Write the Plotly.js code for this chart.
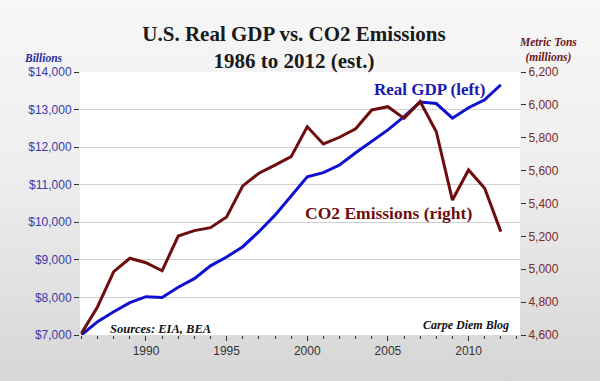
<!DOCTYPE html>
<html>
<head>
<meta charset="utf-8">
<script src="https://cdn.plot.ly/plotly-3.0.1.min.js"></script>
<style>
html,body{margin:0;padding:0;}
#chart{width:600px;height:381px;background:linear-gradient(to bottom,#f7f7f7 0%,#eeeeee 45%,#d6d6d6 100%);}
</style>
</head>
<body>
<div id="chart"></div>
<script>
const years = [1986,1987,1988,1989,1990,1991,1992,1993,1994,1995,1996,1997,1998,1999,2000,2001,2002,2003,2004,2005,2006,2007,2008,2009,2010,2011,2012];
const gdpBillions = [7000,7354,7620,7860,8020,8000,8270,8500,8840,9075,9350,9750,10190,10700,11210,11320,11525,11850,12150,12460,12810,13200,13160,12770,13050,13260,13660];
const co2MetricTonsMillions = [4610,4772,4985,5067,5040,4991,5202,5235,5253,5318,5507,5584,5634,5685,5867,5762,5803,5855,5969,5989,5918,6020,5837,5421,5604,5493,5229];
const xTickVals = [1990,1995,2000,2005,2010];
const leftTickVals = [7000,8000,9000,10000,11000,12000,13000,14000];
const leftTickText = ['$7,000','$8,000','$9,000','$10,000','$11,000','$12,000','$13,000','$14,000'];
const rightTickVals = [4600,4800,5000,5200,5400,5600,5800,6000,6200];
const rightTickText = ['4,600','4,800','5,000','5,200','5,400','5,600','5,800','6,000','6,200'];

const serif = '"Liberation Serif", "DejaVu Serif", serif';
const sans = '"Liberation Sans", Arial, sans-serif';

const traces = [
  {x: years, y: gdpBillions, type: 'scatter', mode: 'lines', name: 'Real GDP (left)',
   line: {color: '#1010d0', width: 3}, yaxis: 'y'},
  {x: years, y: co2MetricTonsMillions, type: 'scatter', mode: 'lines', name: 'CO2 Emissions (right)',
   line: {color: '#6e0d0d', width: 3}, yaxis: 'y2'}
];

const layout = {
  width: 600, height: 381,
  margin: {l: 80, r: 80, t: 72, b: 46},
  paper_bgcolor: 'rgba(0,0,0,0)',
  plot_bgcolor: '#ffffff',
  showlegend: false,
  title: {text: 'U.S. Real GDP vs. CO2 Emissions<br>1986 to 2012 (est.)',
          font: {family: serif, size: 21, color: '#1a1a1a', weight: 'bold'},
          x: 0.49, xanchor: 'center', y: 0.893, yanchor: 'top'},
  xaxis: {range: [1985.91, 2013.19], tickvals: xTickVals, ticks: 'outside', ticklen: 5, tickcolor: '#333',
          tickfont: {family: sans, size: 12, color: '#333'}, showgrid: false, zeroline: false, showline: false,
          minor: {dtick: 1, tick0: 1986, ticks: 'outside', ticklen: 3, tickcolor: '#333', showgrid: false}},
  yaxis: {range: [7000, 14000], tickvals: leftTickVals, ticktext: leftTickText, ticks: 'outside',
          ticklen: 5, tickcolor: '#333', tickfont: {family: sans, size: 12, color: '#3a3aa8'},
          showgrid: true, gridcolor: '#d0d0d0', gridwidth: 1, zeroline: false, showline: false},
  yaxis2: {range: [4600, 6200], tickvals: rightTickVals, ticktext: rightTickText, overlaying: 'y', side: 'right',
           ticks: 'outside', ticklen: 5, tickcolor: '#333', tickfont: {family: sans, size: 12, color: '#7a2a2a'},
           showgrid: false, zeroline: false, showline: false},
  annotations: [
    {text: '<b><i>Billions</i></b>', xref: 'paper', yref: 'paper', x: -0.084, y: 1.052, xanchor: 'center', yanchor: 'middle',
     showarrow: false, font: {family: serif, size: 11.5, color: '#2a2aa0'}},
    {text: '<b><i>Metric Tons<br>(millions)</i></b>', xref: 'paper', yref: 'paper', x: 1.064, y: 1.084, xanchor: 'center', yanchor: 'middle',
     showarrow: false, font: {family: serif, size: 11.5, color: '#6e1515'}},
    {text: '<b>Real GDP (left)</b>', xref: 'paper', yref: 'paper', x: 0.795, y: 0.932, xanchor: 'center', yanchor: 'middle',
     showarrow: false, font: {family: serif, size: 17, color: '#1a1ab0'}},
    {text: '<b>CO2 Emissions (right)</b>', xref: 'paper', yref: 'paper', x: 0.702, y: 0.464, xanchor: 'center', yanchor: 'middle',
     showarrow: false, font: {family: serif, size: 17.5, color: '#6e0d0d'}},
    {text: '<b><i>Sources: EIA, BEA</i></b>', xref: 'paper', yref: 'paper', x: 0.064, y: 0.023, xanchor: 'left', yanchor: 'middle',
     showarrow: false, font: {family: serif, size: 12.5, color: '#111'}},
    {text: '<b><i>Carpe Diem Blog</i></b>', xref: 'paper', yref: 'paper', x: 0.98, y: 0.038, xanchor: 'right', yanchor: 'middle',
     showarrow: false, font: {family: serif, size: 12, color: '#111'}}
  ]
};

Plotly.newPlot('chart', traces, layout, {displayModeBar: false, staticPlot: true});
</script>
</body>
</html>
